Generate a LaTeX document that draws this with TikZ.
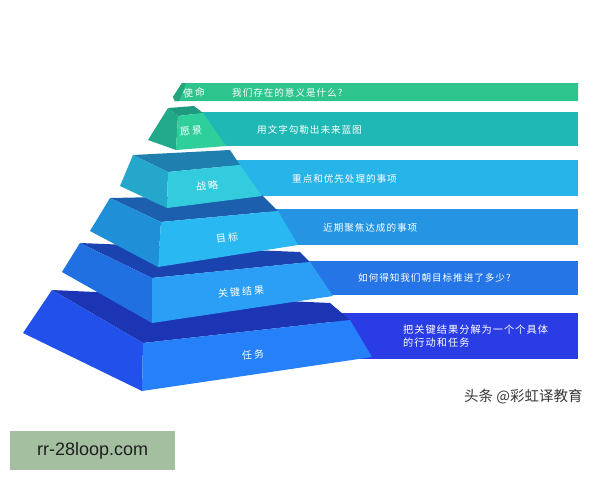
\documentclass[tikz,border=0pt]{standalone}
\usepackage{fontspec}
\setmainfont{Liberation Sans}
\newfontfamily\cjk[LetterSpace=10]{Noto Sans CJK SC}
\newfontfamily\cjklab[LetterSpace=20]{Noto Sans CJK SC}
\newfontfamily\cjkplain{Noto Sans CJK SC}
\definecolor{bA}{HTML}{2DC48D}
\definecolor{bAd}{HTML}{22A57A}
\definecolor{bB}{HTML}{20B8B5}
\definecolor{bC}{HTML}{27B4E9}
\definecolor{bD}{HTML}{2494E3}
\definecolor{bE}{HTML}{2575E6}
\definecolor{bF}{HTML}{2A3DE4}
\definecolor{tB}{HTML}{1E9A80}\definecolor{lB}{HTML}{22A98A}\definecolor{fB}{HTML}{2FCF9C}
\definecolor{tC}{HTML}{1F7FAE}\definecolor{lC}{HTML}{25A7CC}\definecolor{fC}{HTML}{32CCDE}
\definecolor{tD}{HTML}{1B5FAE}\definecolor{lD}{HTML}{1F8FD8}\definecolor{fD}{HTML}{2AB8F2}
\definecolor{tE}{HTML}{1B43B0}\definecolor{lE}{HTML}{2170E2}\definecolor{fE}{HTML}{2A9FF5}
\definecolor{tF}{HTML}{1C35B5}\definecolor{lF}{HTML}{2150EA}\definecolor{fF}{HTML}{2680FA}
\definecolor{boxc}{HTML}{A3BF9F}
\tikzset{
  bantext/.style={text=white,font=\cjk\fontsize{9.6}{12}\selectfont,anchor=west,inner sep=0pt,align=left},
  labtext/.style={text=white,font=\cjklab\fontsize{10}{12}\selectfont,inner sep=0pt,rotate=5},
}
\begin{document}
\begin{tikzpicture}[x=1pt,y=-1pt]
\useasboundingbox (0,0) rectangle (600,480);
\fill[white] (0,0) rectangle (600,480);
% banners
\fill[bA] (182,83) -- (578,83) -- (578,101) -- (175,101) -- (173,97) -- cycle;
\fill[bAd] (182,83) -- (186,83) -- (179,101) -- (175,101) -- (173,97) -- cycle;
\fill[bB] (195,112) rectangle (578,146);
\fill[bC] (225,160) rectangle (578,196);
\fill[bD] (270,209) rectangle (578,245);
\fill[bE] (300,261) rectangle (578,295);
\fill[bF] (330,313) rectangle (578,359);
% layer 6
\fill[tF] (52,290) -- (330,303) -- (350,320) -- (143,343) -- cycle;
\fill[lF] (52,290) -- (143,343) -- (142,391) -- (23,333) -- cycle;
\fill[fF] (143,343) -- (350,320) -- (372,357) -- (142,391) -- cycle;
% layer 5
\fill[tE] (80,243) -- (300,252) -- (310,262) -- (152,278) -- cycle;
\fill[lE] (80,243) -- (152,278) -- (152,323) -- (62,272) -- cycle;
\fill[fE] (152,278) -- (310,262) -- (333,296) -- (152,323) -- cycle;
% layer 4
\fill[tD] (110,198) -- (262,195) -- (278,211) -- (161,222) -- cycle;
\fill[lD] (110,198) -- (161,222) -- (158,267) -- (90,231) -- cycle;
\fill[fD] (161,222) -- (278,211) -- (298,245) -- (158,267) -- cycle;
% layer 3
\fill[tC] (133,155) -- (230,150) -- (240,165) -- (168,172) -- cycle;
\fill[lC] (133,155) -- (168,172) -- (167,208) -- (120,186) -- cycle;
\fill[fC] (168,172) -- (240,165) -- (262,196) -- (167,208) -- cycle;
% layer 2
\fill[tB] (168,108) -- (194,106) -- (203,113) -- (178,116) -- cycle;
\fill[lB] (168,108) -- (178,116) -- (176,150) -- (148,140) -- cycle;
\fill[fB] (178,116) -- (203,113) -- (226,146) -- (176,150) -- cycle;
% labels
\node[labtext] (l1) at (194,93) {使命};
\node[labtext] (l2) at (191,131) {愿景};
\node[labtext] (l3) at (207,186) {战略};
\node[labtext] (l4) at (227,238) {目标};
\node[labtext] (l5) at (241,292) {关键结果};
\node[labtext] (l6) at (253,355) {任务};
% banner texts
\node[bantext] (t1) at (232,93) {我们存在的意义是什么?};
\node[bantext] (t2) at (257,130) {用文字勾勒出未来蓝图};
\node[bantext] (t3) at (292,179) {重点和优先处理的事项};
\node[bantext] (t4) at (323,228) {近期聚焦达成的事项};
\node[bantext] (t5) at (358,278) {如何得知我们朝目标推进了多少?};
\node[bantext,font=\cjk\fontsize{10.2}{12.5}\selectfont] (t6) at (403,336) {把关键结果分解为一个个具体\\的行动和任务};
% watermark
\node[anchor=west,inner sep=0pt,text=black!78,font=\cjkplain\fontsize{14.5}{16}\selectfont] (wm) at (464,397) {头条 @彩虹译教育};
% box
\node[fill=boxc,minimum width=165pt,minimum height=39pt,inner sep=0pt,anchor=north west,text=black!88,font=\fontsize{18}{20}\selectfont] (box) at (10,431) {rr-28loop.com};
\end{tikzpicture}
\end{document}
